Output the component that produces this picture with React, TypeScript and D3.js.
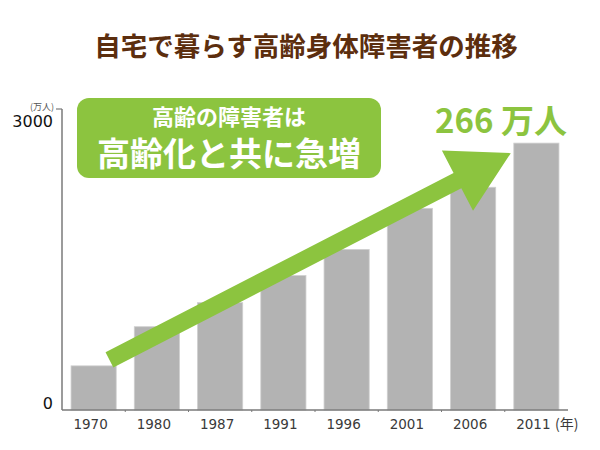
import * as d3 from 'd3';

const years = ['1970', '1980', '1987', '1991', '1996', '2001', '2006', '2011'];
const values = [440, 830, 1070, 1340, 1600, 2010, 2220, 2660];
const yTicks = [0, 3000];

const title = '自宅で暮らす高齢身体障害者の推移';
const boxLine1 = '高齢の障害者は';
const boxLine2 = '高齢化と共に急増';
const callout = '266 万人';

const W = 600;
const H = 450;
const GREEN = '#8cc43f';
const JP = '"Noto Sans CJK JP", "Noto Sans", sans-serif';

export default function App() {
  const x = d3.scaleBand<string>().domain(years).range([62, 568]).paddingInner(0.286).paddingOuter(0.143);
  const y = d3.scaleLinear().domain([0, 3000]).range([410, 109]);
  const bw = x.bandwidth();

  // arrow, anchored to the scales
  const sx = x('1970')! + bw * 0.85;
  const sy = y(500);
  const tx = x('2011')! - 3;
  const ty = y(2560);
  const len = Math.hypot(tx - sx, ty - sy);
  const ux = (tx - sx) / len;
  const uy = (ty - sy) / len;
  const nx = -uy;
  const ny = ux;
  const shaftW = 8.5;
  const headL = 60;
  const headW = 34;
  const bx = tx - headL * ux;
  const by = ty - headL * uy;
  const arrowPts: [number, number][] = [
    [sx - shaftW * nx, sy - shaftW * ny],
    [bx - shaftW * nx, by - shaftW * ny],
    [bx - headW * nx, by - headW * ny],
    [tx, ty],
    [bx + headW * nx, by + headW * ny],
    [bx + shaftW * nx, by + shaftW * ny],
    [sx + shaftW * nx, sy + shaftW * ny],
  ];
  const arrowPath = d3.line()(arrowPts) + 'Z';

  return (
    <svg width={W} height={H} style={{ display: 'block', position: 'absolute', left: 0, top: 0, background: '#fff' }}>
      <text x={306} y={56} textAnchor="middle" fontFamily={JP} fontWeight={700} fontSize={26.5} fill="#5c2e0e">
        {title}
      </text>

      {/* bars */}
      {years.map((yr, i) => (
        <rect
          key={yr}
          x={x(yr)}
          y={y(values[i])}
          width={bw}
          height={y(0) - y(values[i])}
          fill="#b3b3b3"
          stroke="#cfcfcf"
          strokeWidth={0.8}
        />
      ))}

      {/* axes */}
      <line x1={62} x2={62} y1={y(3000)} y2={y(0)} stroke="#7a7a7a" strokeWidth={1.5} />
      <line x1={56} x2={62} y1={y(3000)} y2={y(3000)} stroke="#7a7a7a" strokeWidth={1.2} />
      <line x1={62} x2={568} y1={y(0)} y2={y(0)} stroke="#7a7a7a" strokeWidth={1.5} />
      {years.slice(1).map((yr) => (
        <line
          key={'t' + yr}
          x1={x(yr)! - (x.step() - bw) / 2}
          x2={x(yr)! - (x.step() - bw) / 2}
          y1={y(0)}
          y2={y(0) + 2}
          stroke="#7a7a7a"
          strokeWidth={1}
        />
      ))}
      <text x={53} y={y(3000) + 18} textAnchor="end" fontFamily="DejaVu Sans, sans-serif" fontSize={16} fill="#111">
        {yTicks[1]}
      </text>
      <text x={53} y={y(0) - 1} textAnchor="end" fontFamily="DejaVu Sans, sans-serif" fontSize={16} fill="#111">
        {yTicks[0]}
      </text>
      <text x={42} y={y(3000) + 1} textAnchor="middle" fontFamily={JP} fontSize={9} fill="#555">
        (万人)
      </text>
      {years.map((yr) => (
        <text
          key={'l' + yr}
          x={x(yr)! + bw / 2 - 3}
          y={429}
          textAnchor="middle"
          fontFamily="DejaVu Sans, sans-serif"
          fontSize={13.5}
          fill="#3a3a3a"
        >
          {yr}
        </text>
      ))}
      <text x={555} y={429} fontFamily={JP} fontSize={14} fill="#3a3a3a">
        (年)
      </text>

      {/* arrow */}
      <path d={arrowPath} fill={GREEN} />

      {/* callout box */}
      <rect x={77} y={98} width={304} height={80} rx={12} fill={GREEN} />
      <text x={229} y={125} textAnchor="middle" fontFamily={JP} fontWeight={700} fontSize={22} fill="#fff">
        {boxLine1}
      </text>
      <text x={229} y={166} textAnchor="middle" fontFamily={JP} fontWeight={700} fontSize={33} fill="#fff">
        {boxLine2}
      </text>

      <text x={501} y={133} textAnchor="middle" fontFamily={JP} fontWeight={700} fontSize={33} fill={GREEN}>
        {callout}
      </text>
    </svg>
  );
}
